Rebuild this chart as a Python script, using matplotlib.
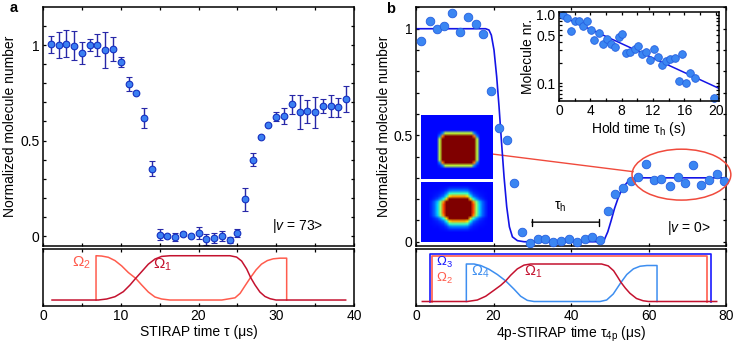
import numpy as np
import matplotlib
matplotlib.use('Agg')
import matplotlib.pyplot as plt
from matplotlib.patches import Ellipse
from matplotlib.ticker import MultipleLocator, FixedLocator, NullFormatter

plt.rcParams['font.family'] = ['Liberation Sans', 'DejaVu Sans']
plt.rcParams['mathtext.fontset'] = 'custom'
plt.rcParams['mathtext.rm'] = 'Liberation Sans'
plt.rcParams['mathtext.it'] = 'Liberation Sans:italic'
plt.rcParams['font.size'] = 10

# ---- panel a: STIRAP to v=73
tau_a = list(range(1, 40))
n_a = [1.003, 1.0, 1.007, 0.997, 0.96, 1.0, 1.0, 0.974, 0.979, 0.911, 0.795, 0.747,
       0.617, 0.353, 0.007, 0.0, -0.005, 0.012, 0.0, 0.017, -0.017, -0.01, 0.0, -0.019,
       0.017, 0.192, 0.40, 0.519, 0.58, 0.624, 0.629, 0.69, 0.65, 0.654, 0.647, 0.68,
       0.682, 0.673, 0.715]
err_a = [0.046, 0.068, 0.07, 0.074, 0.057, 0.033, 0.058, 0.094, 0.064, 0.025, 0.035, 0.0,
         0.052, 0.038, 0.028, 0.01, 0.022, 0.01, 0.0, 0.032, 0.029, 0.028, 0.028, 0.015,
         0.02, 0.06, 0.033, 0.0, 0.0, 0.024, 0.042, 0.05, 0.09, 0.06, 0.079, 0.036,
         0.057, 0.048, 0.068]

# pulse sequence a
t1_a = [1.16, 7.11, 8.19, 9.26, 10.33, 11.19, 11.92, 12.69, 13.55, 14.4, 15.26, 16.33,
        24.05, 24.9, 25.55, 26.2, 26.7, 27.27, 27.9, 28.55, 29.2, 29.97, 38.93]
o1_a = [0, 0, 0.023, 0.075, 0.188, 0.339, 0.49, 0.64, 0.81, 0.925, 0.985, 1.0,
        1.0, 0.97, 0.88, 0.70, 0.51, 0.34, 0.18, 0.08, 0.03, 0, 0]
t2_a = [6.82, 6.82, 7.55, 8.4, 9.26, 10.12, 10.98, 11.92, 12.69, 13.55, 14.4, 15.26, 16.33,
        23.0, 24.7, 25.35, 25.98, 26.7, 27.4, 28.1, 28.85, 29.6, 30.48, 31.34, 31.34]
o2_a = [0, 1.0, 0.993, 0.965, 0.89, 0.77, 0.62, 0.49, 0.34, 0.18, 0.068, 0.023, 0,
        0, 0.05, 0.15, 0.32, 0.51, 0.68, 0.81, 0.89, 0.93, 0.945, 0.945, 0]

# ---- panel b: 4-photon STIRAP to v=0
tau_b = [1.4, 3.5, 5.4, 7.3, 9.3, 11.3, 13.4, 15.4, 17.4, 19.4, 21.4, 23.4, 25.3, 27.3,
         29.3, 31.4, 33.4, 35.4, 37.4, 39.4, 41.5, 43.5, 45.4, 47.4, 49.5, 51.4, 53.4,
         55.4, 57.3, 59.4, 61.4, 63.3, 65.5, 67.5, 69.5, 71.5, 73.5, 75.5, 77.6, 79.6]
n_b = [0.942, 1.036, 1.0, 1.014, 1.075, 0.984, 1.056, 1.022, 0.975, 0.709, 0.532, 0.477,
       0.274, 0.045, -0.006, 0.011, 0.011, 0.0, 0.003, 0.011, 0.0, 0.011, 0.023, 0.008,
       0.146, 0.224, 0.25, 0.286, 0.305, 0.363, 0.29, 0.294, 0.263, 0.305, 0.274, 0.36,
       0.266, 0.29, 0.318, 0.286]
fit_t = [0.26, 17.97, 18.83, 19.44, 20.13, 20.82, 21.43, 22.03, 22.72, 23.41, 24.1, 24.88,
         26.18, 27.9, 47.77, 48.64, 49.5, 50.37, 51.23, 52.27, 53.39, 54.69, 55.98, 57.28, 79.74]
fit_n = [1.0, 1.0, 0.994, 0.97, 0.90, 0.775, 0.634, 0.477, 0.305, 0.164, 0.07, 0.023,
         0.005, 0.0, 0.0, 0.011, 0.047, 0.10, 0.156, 0.211, 0.255, 0.282, 0.294, 0.30, 0.30]

# inset: lifetime
hold = [0.47, 0.98, 1.54, 2.05, 2.6, 3.03, 3.54, 4.09, 4.52, 5.07, 5.59, 6.14, 6.57, 7.08,
        7.63, 8.06, 8.57, 9.08, 9.64, 10.11, 10.62, 11.13, 11.64, 12.11, 12.62, 13.18,
        13.69, 14.2, 14.75, 15.27, 15.74, 16.25, 16.76, 17.31, 19.74]
mol = [1.0, 0.893, 0.575, 0.798, 0.798, 0.674, 0.807, 0.602, 0.419, 0.544, 0.37, 0.439,
       0.37, 0.342, 0.475, 0.514, 0.279, 0.282, 0.316, 0.35, 0.267, 0.289, 0.218, 0.316,
       0.244, 0.184, 0.213, 0.226, 0.233, 0.108, 0.267, 0.102, 0.139, 0.121, 0.0616]
hold_fit = [0.0, 20.4]
mol_fit = [0.99, 0.084]

# pulse sequence b
t1_b = [1.63, 13.25, 15.83, 17.98, 20.13, 21.85, 23.14, 24.43, 26.15, 27.87, 29.6,
        47.9, 49.6, 51.0, 52.0, 52.9, 54.0, 55.2, 56.9, 58.6, 60.0, 77.6]
o1_b = [0, 0, 0.04, 0.14, 0.3, 0.43, 0.55, 0.7, 0.87, 0.97, 1.0,
        1.0, 0.95, 0.82, 0.66, 0.51, 0.36, 0.22, 0.08, 0.02, 0, 0]
t4_b = [12.99, 12.99, 14.97, 16.69, 18.84, 20.99, 23.14, 25.29, 27.01, 28.73, 30.45,
        47.5, 49.2, 50.9, 52.9, 54.4, 56.1, 57.8, 59.6, 62.2, 62.2]
o4_b = [0, 1.0, 1.0, 0.96, 0.86, 0.72, 0.55, 0.33, 0.14, 0.03, 0.0,
        0.0, 0.04, 0.2, 0.51, 0.72, 0.87, 0.94, 0.96, 0.96, 0]
t3_b = [3.6, 3.6, 76.1, 76.1]
o3_b = [0, 1.27, 1.27, 0]
t2_b = [4.2, 4.2, 75.0, 75.0]
o2_b = [0, 1.21, 1.21, 0]

# absorption images, built from rough row/column profiles
prof_x_top = [0, 0, 0, 0, 0, 0, 0.15, 0.8, 3, 3, 3, 3, 3, 3, 3, 3, 3, 3, 0.8, 0.15, 0, 0, 0, 0, 0]
prof_y_top = [0, 0, 0, 0, 0, 0, 0.15, 0.8, 3, 3, 3, 3, 3, 3, 3, 3, 0.8, 0.15, 0, 0, 0, 0]
prof_x_bot = [0, 0, 0, 0.02, 0.05, 0.1, 0.2, 0.35, 0.8, 1.8, 2, 2, 2, 2, 2, 1.8,
              0.8, 0.35, 0.2, 0.1, 0.05, 0.02, 0, 0]
prof_y_bot = [0, 0, 0.02, 0.06, 0.15, 0.3, 0.7, 1.8, 2, 2, 2, 2, 1.8, 0.7, 0.3,
              0.15, 0.06, 0.02, 0, 0, 0, 0]

C_O1 = '#c4122f'
C_O2 = '#ff5c4d'
C_O3 = '#1a1aff'
C_O4 = '#3d8ef0'
W, H = 735, 346


def frac(l, t, r, b):
    return [l / W, 1 - b / H, (r - l) / W, (b - t) / H]


def style(ax):
    for s in ax.spines.values():
        s.set_linewidth(1.1)
    ax.tick_params(which='both', direction='in', top=True, right=True, width=0.9,
                   length=2.5, pad=2.5)


fig = plt.figure(figsize=(7.35, 3.46), dpi=100)

# ---------------- panel a
ax_a = fig.add_axes(frac(43, 7, 354, 246))
ax_a.errorbar(tau_a, n_a, yerr=err_a, fmt='o', ms=4.8, mfc='#3b7ff2', mec='#1530c0',
              mew=0.8, ecolor='#2828a8', elinewidth=1, capsize=2.2, capthick=1)
ax_a.set_xlim(0, 40)
ax_a.set_ylim(-0.052, 1.199)
ax_a.set_yticks([0, 0.5, 1])
ax_a.set_yticklabels(['0', '0.5', '1'])
ax_a.yaxis.set_minor_locator(MultipleLocator(0.1))
ax_a.xaxis.set_major_locator(MultipleLocator(10))
ax_a.xaxis.set_minor_locator(MultipleLocator(5))
ax_a.set_xticklabels([])
ax_a.set_ylabel('Normalized molecule number', labelpad=2)
ax_a.text(32.7, 0.052, r'|$v$ = 73>', ha='center', va='center')
style(ax_a)
fig.text(13.5 / W, 1 - 8 / H, 'a', fontweight='bold', fontsize=10.5, ha='center', va='center')

ax_as = fig.add_axes(frac(43, 249, 354, 306))
ax_as.plot(t2_a, o2_a, color=C_O2, lw=1.1)
ax_as.plot(t1_a, o1_a, color=C_O1, lw=1.1)
ax_as.set_xlim(0, 40)
ax_as.set_ylim(-0.135, 1.152)
ax_as.xaxis.set_major_locator(MultipleLocator(10))
ax_as.xaxis.set_minor_locator(MultipleLocator(5))
ax_as.set_yticks([])
ax_as.set_xlabel('STIRAP time τ (μs)', labelpad=1)
ax_as.text(5.0, 0.84, r'$\Omega_2$', color=C_O2, ha='center', va='center', fontsize=11)
ax_as.text(15.4, 0.79, r'$\Omega_1$', color=C_O1, ha='center', va='center', fontsize=11)
style(ax_as)
ax_as.tick_params(left=False, right=False)

# ---------------- panel b
ax_b = fig.add_axes(frac(416, 7, 726, 246))
ax_b.plot(fit_t, fit_n, color='#1414e6', lw=1.2, zorder=2)
ax_b.plot(tau_b, n_b, 'o', ms=6.2, mfc='#3b86f2', mec='#2660e0', mew=0.6, zorder=3,
          clip_on=False)
ax_b.plot([19.6, 56.0], [0.412, 0.329], color='#f04a3c', lw=1, zorder=1)
ax_b.add_patch(Ellipse((68.5, 0.315), 25.5, 0.239, fill=False, ec='#f04a3c', lw=1.1,
                       clip_on=False, zorder=4))
ax_b.annotate('', xy=(29.9, 0.092), xytext=(47.2, 0.092),
              arrowprops=dict(arrowstyle='|-|', mutation_scale=2.5, lw=1, color='k',
                              shrinkA=0, shrinkB=0))
ax_b.text(37.2, 0.163, r'τ$_\mathrm{h}$', ha='center', va='center')
ax_b.text(70.5, 0.064, r'|$v$ = 0>', ha='center', va='center')
ax_b.set_xlim(0, 80)
ax_b.set_ylim(-0.020, 1.102)
ax_b.set_yticks([0, 0.5, 1])
ax_b.set_yticklabels(['0', '0.5', '1'])
ax_b.yaxis.set_minor_locator(MultipleLocator(0.1))
ax_b.xaxis.set_major_locator(MultipleLocator(20))
ax_b.set_xticklabels([])
ax_b.set_ylabel('Normalized molecule number', labelpad=2)
style(ax_b)
fig.text(391 / W, 1 - 9 / H, 'b', fontweight='bold', fontsize=10.5, ha='center', va='center')

ax_bs = fig.add_axes(frac(416, 249, 726, 306))
ax_bs.plot(t3_b, o3_b, color=C_O3, lw=1.2)
ax_bs.plot(t2_b, o2_b, color=C_O2, lw=1.2)
ax_bs.plot(t4_b, o4_b, color=C_O4, lw=1.1)
ax_bs.plot(t1_b, o1_b, color=C_O1, lw=1.1)
ax_bs.set_xlim(0, 80)
ax_bs.set_ylim(-0.12, 1.40)
ax_bs.xaxis.set_major_locator(MultipleLocator(20))
ax_bs.set_yticks([])
ax_bs.set_xlabel(r'4p-STIRAP time τ$_\mathrm{4p}$ (μs)', labelpad=1)
ax_bs.text(7.3, 1.03, r'$\Omega_3$', color=C_O3, ha='center', va='center', fontsize=9.5)
ax_bs.text(7.3, 0.62, r'$\Omega_2$', color=C_O2, ha='center', va='center', fontsize=9.5)
ax_bs.text(16.5, 0.79, r'$\Omega_4$', color=C_O4, ha='center', va='center', fontsize=10.5)
ax_bs.text(30.2, 0.79, r'$\Omega_1$', color=C_O1, ha='center', va='center', fontsize=10.5)
style(ax_bs)
ax_bs.tick_params(left=False, right=False)

# inset
ax_in = fig.add_axes(frac(559, 12, 719, 101))
ax_in.plot(hold_fit, mol_fit, color='#1414e6', lw=1.1)
ax_in.plot(hold, mol, 'o', ms=5.5, mfc='#3b86f2', mec='#2660e0', mew=0.6, clip_on=False)
ax_in.set_yscale('log')
ax_in.set_xlim(0, 20.4)
ax_in.set_ylim(0.055, 1.09)
ax_in.yaxis.set_major_locator(FixedLocator([0.1, 0.5, 1.0]))
ax_in.set_yticklabels(['0.1', '0.5', '1.0'])
ax_in.yaxis.set_minor_formatter(NullFormatter())
ax_in.xaxis.set_major_locator(MultipleLocator(4))
ax_in.xaxis.set_minor_locator(MultipleLocator(2))
ax_in.set_xlabel(r'Hold time τ$_\mathrm{h}$ (s)', labelpad=1)
ax_in.set_ylabel('Molecule nr.', labelpad=1)
style(ax_in)

# images
for box, px, py in [((420.5, 115, 492.5, 179.5), prof_x_top, prof_y_top),
                    ((420.5, 181.5, 492.5, 242), prof_x_bot, prof_y_bot)]:
    axi = fig.add_axes(frac(*box))
    img = 0.13 + np.outer(py, px)
    axi.imshow(img, cmap='jet', vmin=0, vmax=1, aspect='auto', interpolation='bilinear')
    axi.axis('off')

fig.savefig('out.png', dpi=100)
